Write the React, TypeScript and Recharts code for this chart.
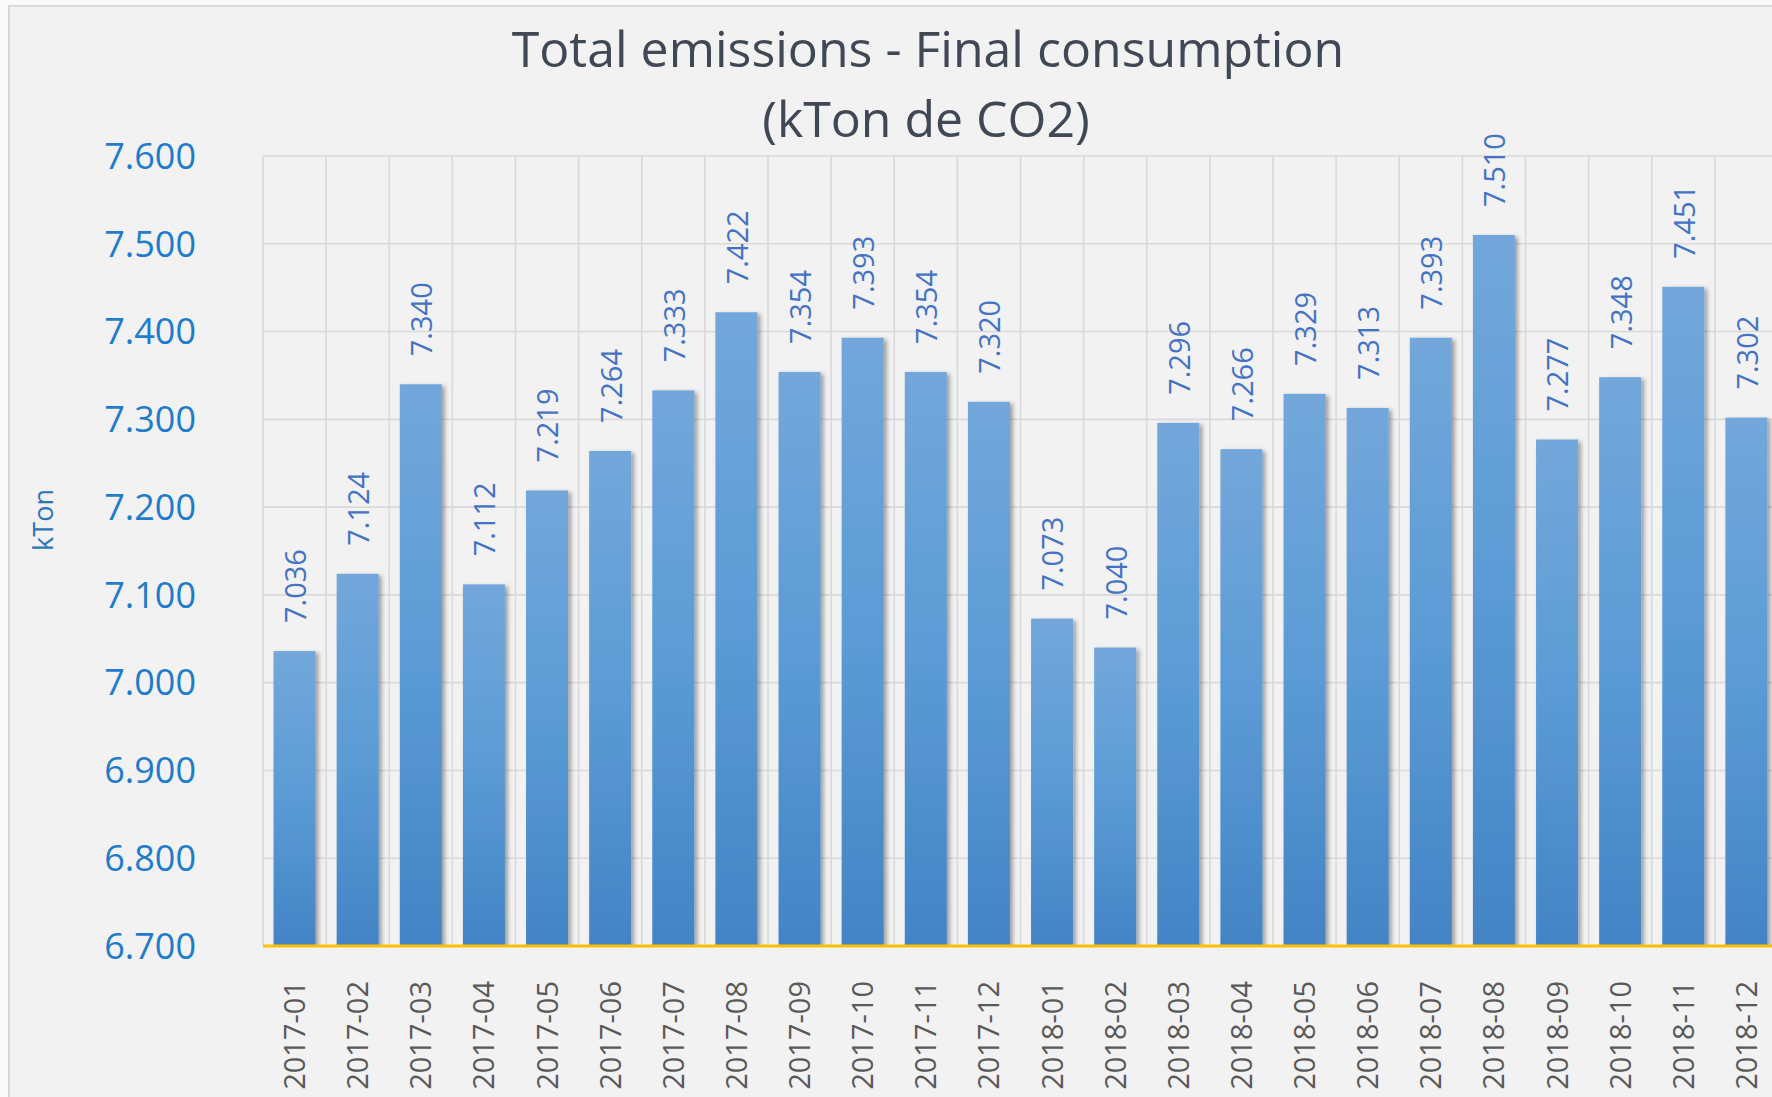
import React from 'react';
import { BarChart, Bar, XAxis, YAxis, CartesianGrid, LabelList } from 'recharts';

const months = [
  '2017-01', '2017-02', '2017-03', '2017-04', '2017-05', '2017-06',
  '2017-07', '2017-08', '2017-09', '2017-10', '2017-11', '2017-12',
  '2018-01', '2018-02', '2018-03', '2018-04', '2018-05', '2018-06',
  '2018-07', '2018-08', '2018-09', '2018-10', '2018-11', '2018-12',
];
const emissions = [
  7036, 7124, 7340, 7112, 7219, 7264, 7333, 7422, 7354, 7393, 7354, 7320,
  7073, 7040, 7296, 7266, 7329, 7313, 7393, 7510, 7277, 7348, 7451, 7302,
];
const yTicks = [6700, 6800, 6900, 7000, 7100, 7200, 7300, 7400, 7500, 7600];
const titleLine1 = 'Total emissions - Final consumption';
const titleLine2 = '(kTon de CO2)';
const yAxisTitle = 'kTon';

const data = months.map((m, i) => ({ month: m, value: emissions[i] }));

const FONT = '"Open Sans", "Noto Sans", sans-serif';
const fmt = (v: number) => (v / 1000).toFixed(3);

const XTick = (props: any) => {
  const { x, y, payload } = props;
  return (
    <text
      transform={`translate(${x}, ${y + 27}) rotate(-90)`}
      textAnchor="end"
      dy="0.36em"
      fontFamily={FONT}
      fontSize={29}
      fill="#595959"
    >
      {payload.value}
    </text>
  );
};

const BarShape = (props: any) => {
  const { x, y, width, height } = props;
  if (height == null || height <= 0) return null;
  return (
    <rect
      x={x}
      y={y}
      width={width}
      height={height}
      fill="url(#barGrad)"
      filter="url(#barShadow)"
    />
  );
};

const ValueLabel = (props: any) => {
  const { x, y, width, value } = props;
  return (
    <text
      transform={`translate(${x + width / 2 + 1}, ${y - 28}) rotate(-90)`}
      textAnchor="start"
      dy="0.36em"
      fontFamily={FONT}
      fontSize={29}
      fill="#4472C4"
    >
      {fmt(value)}
    </text>
  );
};

export default function App() {
  const verticalGen = (p: any) => {
    const off = p && p.offset ? p.offset : { left: 263, width: 1515 };
    const n = months.length;
    const arr: number[] = [];
    for (let i = 0; i <= n; i++) arr.push(off.left + (i * off.width) / n);
    return arr;
  };

  return (
    <div
      style={{
        position: 'fixed',
        left: 0,
        top: 0,
        width: 1772,
        height: 1097,
        overflow: 'hidden',
        background: '#fafafa',
      }}
    >
      <div
        style={{
          position: 'absolute',
          left: 8,
          top: 5,
          width: 1820,
          height: 1120,
          borderLeft: '2px solid #d9d9d9',
          borderTop: '2px solid #d9d9d9',
          background: '#f2f2f2',
        }}
      />
      <div style={{ position: 'absolute', left: 0, top: 0 }}>
        <BarChart
          width={1800}
          height={1097}
          data={data}
          margin={{ top: 156, right: 22, bottom: 0, left: 0 }}
          barCategoryGap="16.7%"
        >
          <defs>
            <linearGradient id="barGrad" x1="0" y1="0" x2="0" y2="1">
              <stop offset="0%" stopColor="#73a7db" />
              <stop offset="50%" stopColor="#5b9bd5" />
              <stop offset="100%" stopColor="#4384c6" />
            </linearGradient>
            <filter id="barShadow" x="-20%" y="-5%" width="150%" height="115%">
              <feDropShadow dx="3" dy="2" stdDeviation="2.2" floodColor="#000" floodOpacity="0.35" />
            </filter>
          </defs>
          <CartesianGrid
            stroke="#d9d9d9"
            strokeWidth={1.6}
            verticalCoordinatesGenerator={verticalGen}
          />
          <XAxis
            dataKey="month"
            height={151}
            interval={0}
            tickLine={false}
            axisLine={{ stroke: '#FFC000', strokeWidth: 3 }}
            tick={<XTick />}
          />
          <YAxis
            width={263}
            domain={[6700, 7600]}
            ticks={yTicks}
            allowDataOverflow
            tickLine={false}
            axisLine={false}
            tickSize={0}
            tickMargin={67}
            tickFormatter={fmt}
            tick={{ fontFamily: FONT, fontSize: 36, fill: '#1f7bcb' }}
          />
          <Bar dataKey="value" isAnimationActive={false} shape={<BarShape />}>
            <LabelList dataKey="value" content={<ValueLabel />} />
          </Bar>
        </BarChart>
      </div>
      <svg
        width={1772}
        height={1097}
        style={{ position: 'absolute', left: 0, top: 0, pointerEvents: 'none' }}
      >
        <text x={928} y={67} textAnchor="middle" fontFamily={FONT} fontSize={50} fill="#404855">
          {titleLine1}
        </text>
        <text x={926} y={137} textAnchor="middle" fontFamily={FONT} fontSize={50} fill="#404855">
          {titleLine2}
        </text>
        <text
          transform="translate(43, 520) rotate(-90)"
          textAnchor="middle"
          dy="0.36em"
          fontFamily={FONT}
          fontSize={27}
          fill="#2e75b6"
        >
          {yAxisTitle}
        </text>
      </svg>
    </div>
  );
}
